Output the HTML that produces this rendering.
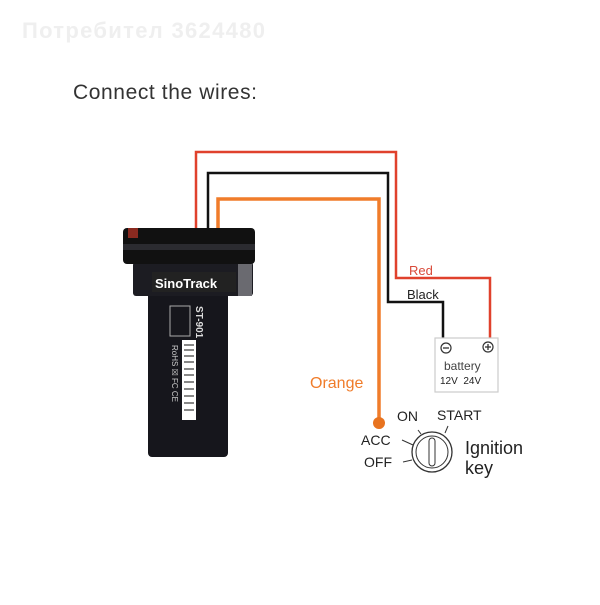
<!DOCTYPE html>
<html><head><meta charset="utf-8"><style>
body{margin:0;background:#fff;width:600px;height:600px;overflow:hidden;font-family:"Liberation Sans",sans-serif}
</style></head><body>
<svg width="600" height="600" viewBox="0 0 600 600" xmlns="http://www.w3.org/2000/svg" font-family="Liberation Sans, DejaVu Sans, sans-serif">
<rect width="600" height="600" fill="#fff"/>
<text x="22" y="38" font-size="22" font-weight="bold" fill="#efefef" textLength="243">Потребител 3624480</text>
<text x="73" y="99" font-size="21" fill="#333" textLength="184">Connect the wires:</text>
<!-- wires -->
<polyline points="196,230 196,152 396,152 396,278 490,278 490,340" fill="none" stroke="#e0412c" stroke-width="2.5"/>
<polyline points="208,230 208,173 388,173 388,302 443,302 443,340" fill="none" stroke="#111" stroke-width="2.5"/>
<polyline points="218,230 218,199 379,199 379,420" fill="none" stroke="#f07c2a" stroke-width="3.5"/>
<circle cx="379" cy="423" r="6" fill="#e8731f"/>
<text x="409" y="275" font-size="13" fill="#d94a3a">Red</text>
<text x="407" y="299" font-size="13" fill="#222">Black</text>
<text x="310" y="388" font-size="16" fill="#f07c2a">Orange</text>
<!-- battery -->
<rect x="435" y="338" width="63" height="54" fill="#fff" stroke="#ccc" stroke-width="1.2"/>
<circle cx="446" cy="348" r="5" fill="none" stroke="#333" stroke-width="1.2"/><line x1="443" y1="348" x2="449" y2="348" stroke="#333" stroke-width="1.3"/>
<circle cx="488" cy="347" r="5" fill="none" stroke="#333" stroke-width="1.2"/><line x1="485" y1="347" x2="491" y2="347" stroke="#333" stroke-width="1.3"/><line x1="488" y1="344" x2="488" y2="350" stroke="#333" stroke-width="1.3"/>
<text x="444" y="370" font-size="12" fill="#444">battery</text>
<text x="440" y="384" font-size="10" fill="#222">12V&#160;&#160;24V</text>
<!-- ignition -->
<circle cx="432" cy="452" r="20" fill="none" stroke="#333" stroke-width="1.3"/>
<circle cx="432" cy="452" r="16" fill="none" stroke="#333" stroke-width="1"/>
<rect x="429" y="438" width="6" height="28" rx="3" fill="none" stroke="#333" stroke-width="1"/>
<line x1="402" y1="440" x2="413" y2="445" stroke="#333"/>
<line x1="403" y1="462" x2="412" y2="460" stroke="#333"/>
<line x1="418" y1="430" x2="421" y2="434" stroke="#333"/>
<line x1="448" y1="426" x2="445" y2="433" stroke="#333"/>
<text x="397" y="421" font-size="14" fill="#222">ON</text>
<text x="437" y="420" font-size="14" fill="#222">START</text>
<text x="361" y="445" font-size="14" fill="#222">ACC</text>
<text x="364" y="467" font-size="14" fill="#222">OFF</text>
<text x="465" y="454" font-size="18" fill="#222">Ignition</text>
<text x="465" y="474" font-size="18" fill="#222">key</text>
<!-- device -->
<rect x="148" y="290" width="80" height="167" rx="4" fill="#16161c"/>
<rect x="133" y="262" width="120" height="34" rx="3" fill="#1c1c22"/>
<rect x="238" y="262" width="14" height="34" fill="#6a6a70"/>
<rect x="123" y="228" width="132" height="36" rx="4" fill="#111"/>
<rect x="123" y="244" width="132" height="6" fill="#2b2b30"/>
<rect x="128" y="228" width="10" height="10" fill="#8a2a20"/>
<rect x="152" y="272" width="84" height="20" fill="#222"/>
<text x="155" y="288" font-size="13" font-weight="bold" fill="#fff">SinoTrack</text>
<rect x="182" y="340" width="14" height="80" fill="#fff"/>
<g stroke="#111" stroke-width="1">
<line x1="184" y1="345" x2="194" y2="345"/><line x1="184" y1="350" x2="194" y2="350"/><line x1="184" y1="356" x2="194" y2="356"/><line x1="184" y1="362" x2="194" y2="362"/><line x1="184" y1="369" x2="194" y2="369"/><line x1="184" y1="375" x2="194" y2="375"/><line x1="184" y1="382" x2="194" y2="382"/><line x1="184" y1="389" x2="194" y2="389"/><line x1="184" y1="396" x2="194" y2="396"/><line x1="184" y1="403" x2="194" y2="403"/><line x1="184" y1="410" x2="194" y2="410"/>
</g>
<rect x="170" y="306" width="20" height="30" fill="none" stroke="#aaa" stroke-width="1"/>
<text x="0" y="0" font-size="10" font-weight="bold" fill="#ddd" transform="translate(196,306) rotate(90)">ST-901</text>
<text x="0" y="0" font-size="8" fill="#ccc" transform="translate(172,345) rotate(90)">RoHS  ☒  FC  CE</text>
</svg>
</body></html>
